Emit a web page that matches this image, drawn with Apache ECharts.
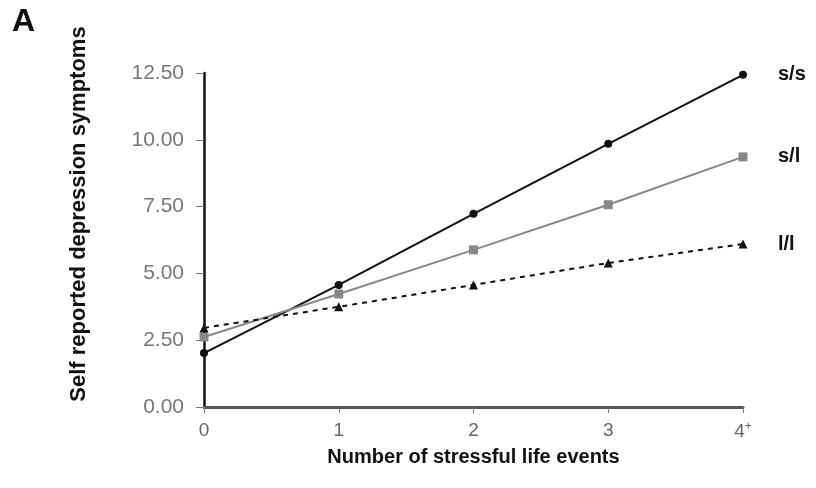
<!DOCTYPE html>
<html><head><meta charset="utf-8">
<script src="https://cdn.jsdelivr.net/npm/echarts@6/dist/echarts.min.js"></script>
<style>html,body{margin:0;padding:0;background:#fff}#c{width:816px;height:488px}</style>
</head><body><div id="c"></div>
<script>
const xValues = [0, 1, 2, 3, 4];
const xTickLabels = ['0', '1', '2', '3', '4'];
const seriesNames = ['s/s', 's/l', 'l/l'];
const ss = [2.02, 4.57, 7.23, 9.85, 12.43];
const sl = [2.62, 4.23, 5.88, 7.57, 9.36];
const ll = [2.96, 3.75, 4.57, 5.39, 6.10];

const pair = (vals) => xValues.map((x, i) => [x, vals[i]]);
const chart = echarts.init(document.getElementById('c'));
const FF = 'Liberation Sans, Arial, sans-serif';
const endLbl = {show: true, formatter: '{a}', color: '#111', fontWeight: 'bold', fontSize: 20, fontFamily: FF, distance: 35};
chart.setOption({
  animation: false,
  graphic: [
    {type: 'text', left: 12, top: 6, style: {text: 'A', font: 'bold 32px Liberation Sans, Arial', fill: '#111'}},
    {type: 'text', x: 79, y: 214, rotation: Math.PI / 2,
     style: {text: 'Self reported depression symptoms', font: 'bold 22px Liberation Sans, Arial', fill: '#111', align: 'center', verticalAlign: 'middle'}}
  ],
  grid: {left: 204, right: 73, top: 73, bottom: 81},
  xAxis: {
    type: 'value', min: 0, max: 4, interval: 1,
    name: 'Number of stressful life events', nameLocation: 'middle', nameGap: 40,
    nameTextStyle: {fontSize: 20, fontWeight: 'bold', color: '#111', fontFamily: FF},
    axisLine: {lineStyle: {color: '#555', width: 3}},
    axisTick: {length: 6, lineStyle: {color: '#777'}},
    splitLine: {show: false},
    axisLabel: {fontSize: 19, color: '#666', margin: 14, fontFamily: FF,
      formatter: v => v === 4 ? '{b|4}{s|+}' : xTickLabels[v],
      rich: {b: {fontSize: 19, color: '#666', fontFamily: FF}, s: {fontSize: 12, color: '#666', verticalAlign: 'top', padding: [0,0,10,0], fontFamily: FF}}}
  },
  yAxis: {
    type: 'value', min: 0, max: 12.5, interval: 2.5,
    axisLine: {show: true, lineStyle: {color: '#111', width: 2.5}},
    axisTick: {show: true, length: 8, lineStyle: {color: '#777'}},
    splitLine: {show: false},
    axisLabel: {fontSize: 21, color: '#777', margin: 20, fontFamily: FF, formatter: v => v.toFixed(2)}
  },
  series: [
    {name: seriesNames[0], type: 'line', data: pair(ss), symbol: 'circle', symbolSize: 8,
     lineStyle: {color: '#111', width: 2}, itemStyle: {color: '#111'}, endLabel: endLbl},
    {name: seriesNames[1], type: 'line', data: pair(sl), symbol: 'rect', symbolSize: 9,
     lineStyle: {color: '#888', width: 2}, itemStyle: {color: '#888'}, endLabel: endLbl},
    {name: seriesNames[2], type: 'line', data: pair(ll), symbol: 'triangle', symbolSize: 9,
     lineStyle: {color: '#111', width: 2, type: [5, 5]}, itemStyle: {color: '#111'}, endLabel: endLbl}
  ]
});
</script></body></html>
